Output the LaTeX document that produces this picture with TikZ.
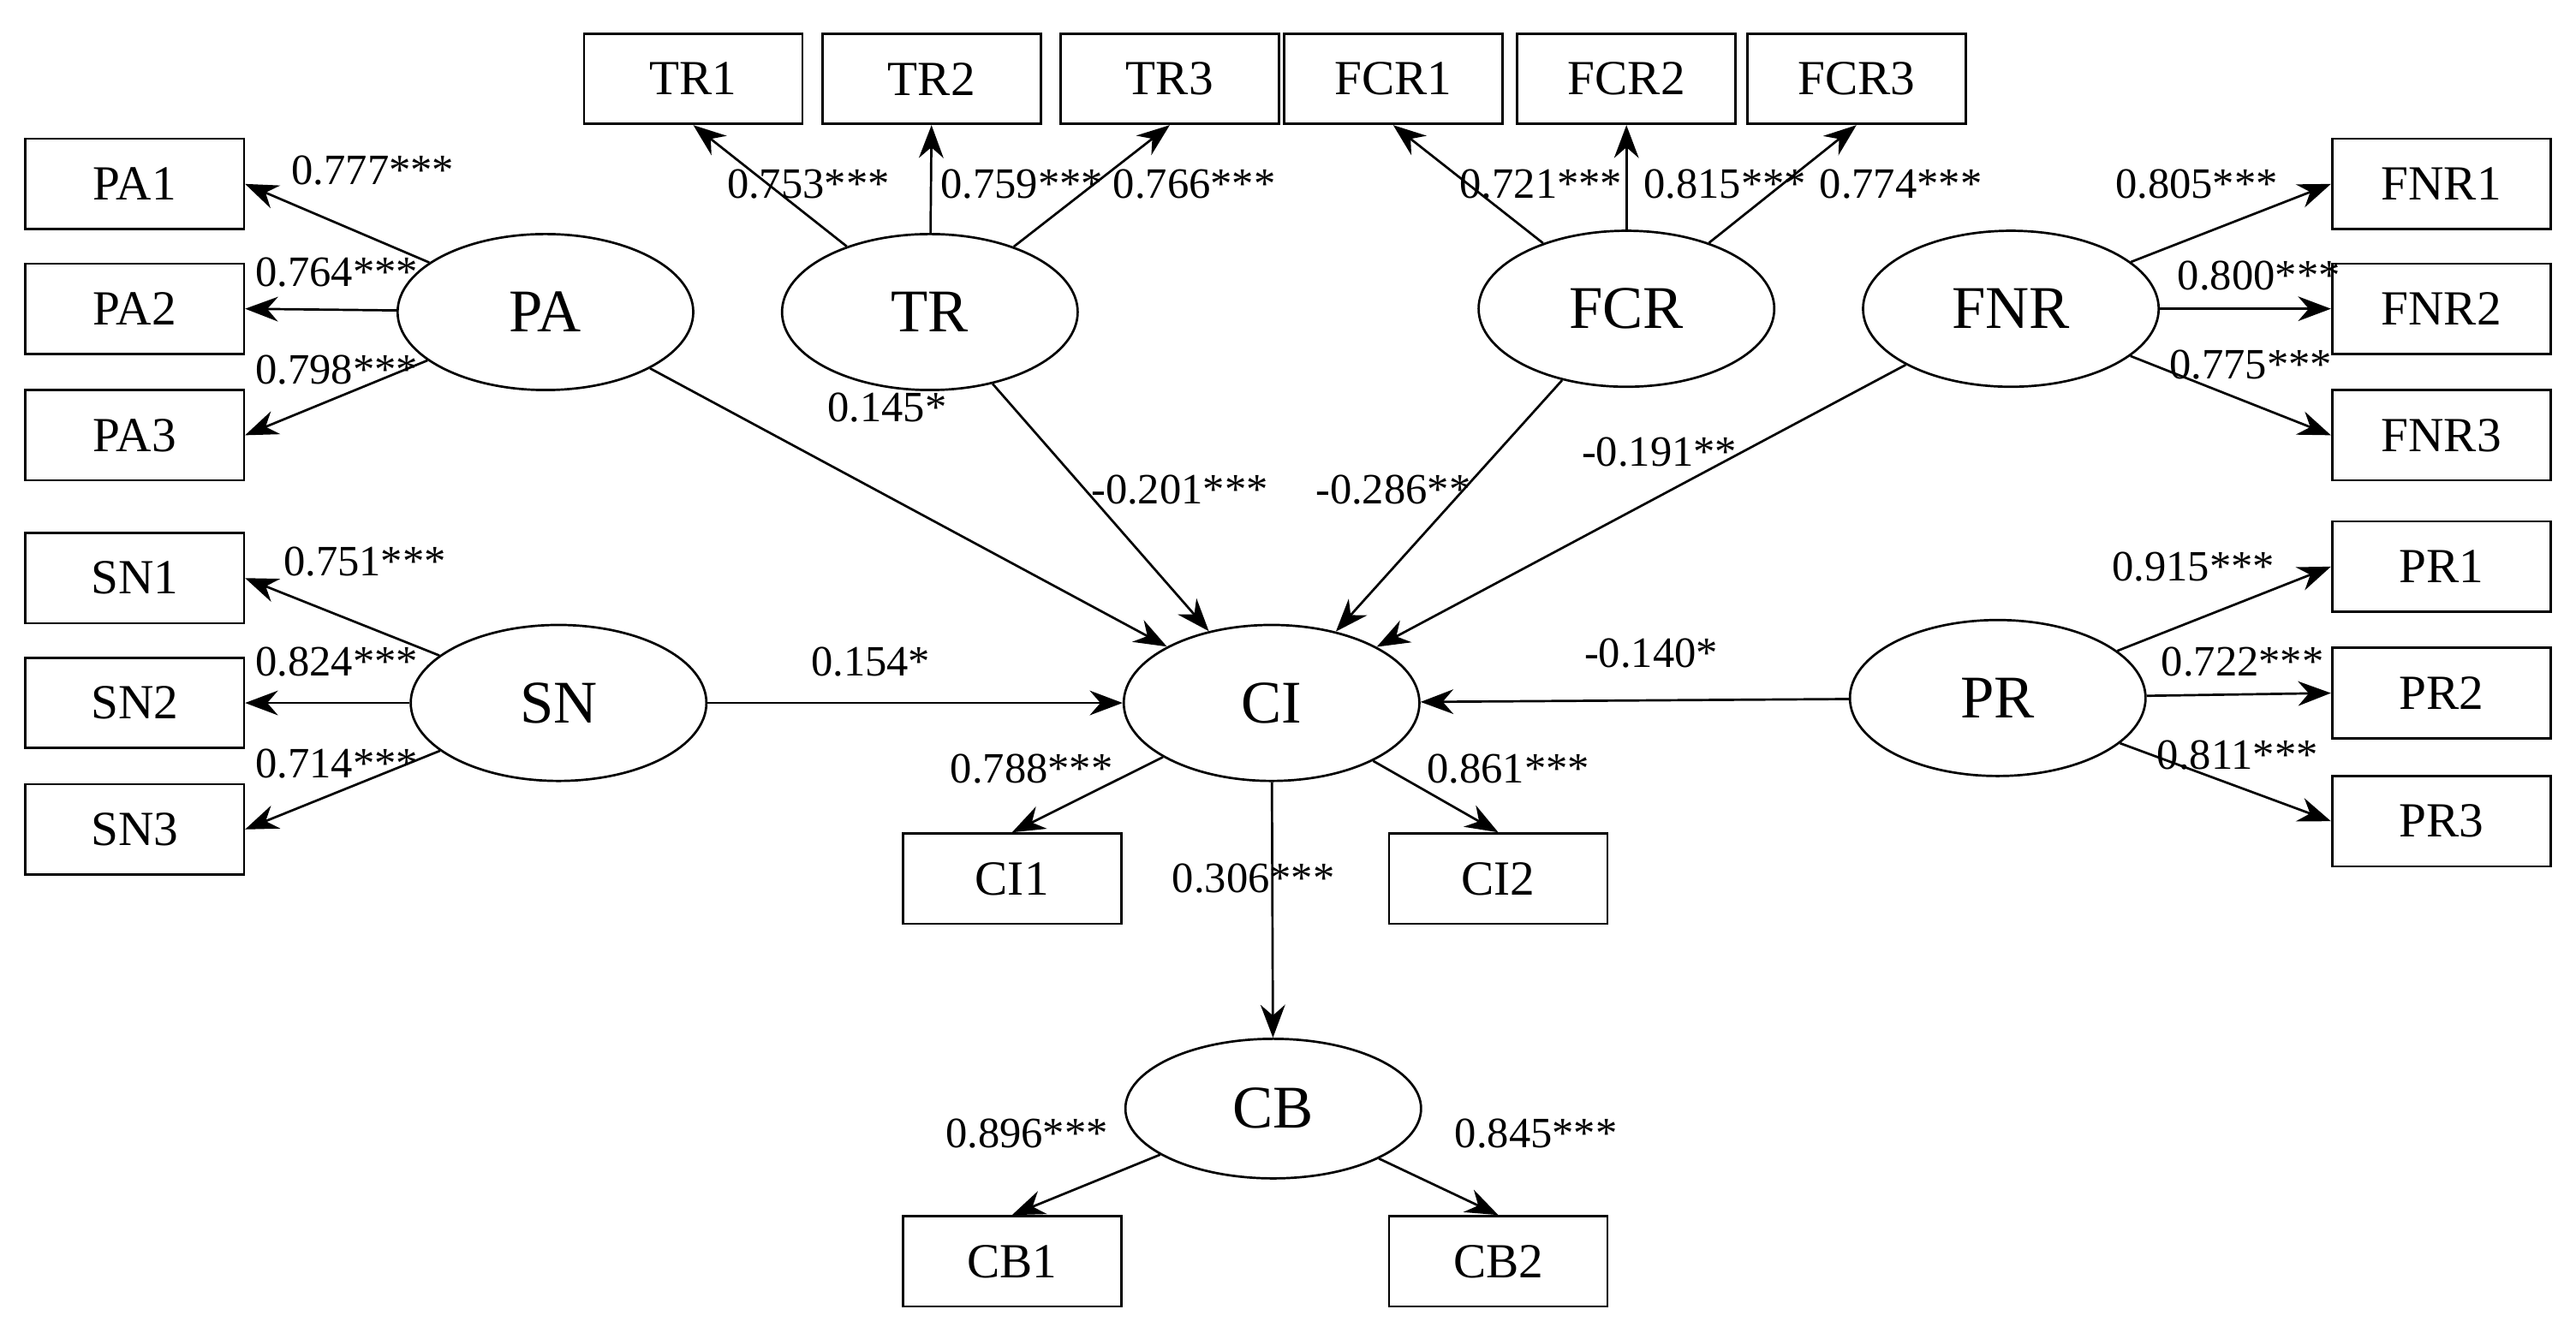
\documentclass[tikz,border=0pt]{standalone}
\usepackage{fontspec}
\setmainfont{Liberation Serif}
\usetikzlibrary{shapes.geometric,arrows.meta}
\begin{document}
\begin{tikzpicture}[x=0.02cm,y=-0.02cm,
  ind/.style={shape=rectangle,draw,thick,minimum width=2.66cm,minimum height=1.1cm,font=\fontsize{17}{17}\selectfont},
  lat/.style={shape=ellipse,draw,thick,minimum width=3.6cm,minimum height=1.9cm,font=\fontsize{21}{21}\selectfont},
  lbl/.style={font=\fontsize{15}{15}\selectfont},
  arr/.style={-{Stealth[length=4mm,width=3mm]},thick}]
\useasboundingbox (0,0) rectangle (1568,804);
\node[lat] (PA) at (332,190) {PA};
\node[lat] (TR) at (566,190) {TR};
\node[lat] (FCR) at (990,188) {FCR};
\node[lat] (FNR) at (1224,188) {FNR};
\node[lat] (SN) at (340,428) {SN};
\node[lat] (CI) at (774,428) {CI};
\node[lat] (PR) at (1216,425) {PR};
\node[lat,minimum height=1.7cm] (CB) at (775,675) {CB};
\node[ind] (PA1) at (82,112) {PA1};
\node[ind] (PA2) at (82,188) {PA2};
\node[ind] (PA3) at (82,265) {PA3};
\node[ind] (SN1) at (82,352) {SN1};
\node[ind] (SN2) at (82,428) {SN2};
\node[ind] (SN3) at (82,505) {SN3};
\node[ind] (TR1) at (422,48) {TR1};
\node[ind] (TR2) at (567,48) {TR2};
\node[ind] (TR3) at (712,48) {TR3};
\node[ind] (FCR1) at (848,48) {FCR1};
\node[ind] (FCR2) at (990,48) {FCR2};
\node[ind] (FCR3) at (1130,48) {FCR3};
\node[ind] (FNR1) at (1486,112) {FNR1};
\node[ind] (FNR2) at (1486,188) {FNR2};
\node[ind] (FNR3) at (1486,265) {FNR3};
\node[ind] (PR1) at (1486,345) {PR1};
\node[ind] (PR2) at (1486,422) {PR2};
\node[ind] (PR3) at (1486,500) {PR3};
\node[ind] (CI1) at (616,535) {CI1};
\node[ind] (CI2) at (912,535) {CI2};
\node[ind] (CB1) at (616,768) {CB1};
\node[ind] (CB2) at (912,768) {CB2};
\draw[arr] (PA) -- (PA1.east);
\draw[arr] (PA) -- (PA2.east);
\draw[arr] (PA) -- (PA3.east);
\draw[arr] (SN) -- (SN1.east);
\draw[arr] (SN) -- (SN2.east);
\draw[arr] (SN) -- (SN3.east);
\draw[arr] (TR) -- (TR1.south);
\draw[arr] (TR) -- (TR2.south);
\draw[arr] (TR) -- (TR3.south);
\draw[arr] (FCR) -- (FCR1.south);
\draw[arr] (FCR) -- (FCR2.south);
\draw[arr] (FCR) -- (FCR3.south);
\draw[arr] (FNR) -- (FNR1.west);
\draw[arr] (FNR) -- (FNR2.west);
\draw[arr] (FNR) -- (FNR3.west);
\draw[arr] (PR) -- (PR1.west);
\draw[arr] (PR) -- (PR2.west);
\draw[arr] (PR) -- (PR3.west);
\draw[arr] (CI) -- (CI1.north);
\draw[arr] (CI) -- (CI2.north);
\draw[arr] (CB) -- (CB1.north);
\draw[arr] (CB) -- (CB2.north);
\draw[arr] (PA) -- (CI);
\draw[arr] (TR) -- (CI);
\draw[arr] (FCR) -- (CI);
\draw[arr] (FNR) -- (CI);
\draw[arr] (SN) -- (CI);
\draw[arr] (PR) -- (CI);
\draw[arr] (CI) -- (CB);
% loadings
\node[lbl] at (227,104) {0.777***};
\node[lbl] at (205,166) {0.764***};
\node[lbl] at (205,225) {0.798***};
\node[lbl] at (222,342) {0.751***};
\node[lbl] at (205,403) {0.824***};
\node[lbl] at (205,465) {0.714***};
\node[lbl] at (492,112) {0.753***};
\node[lbl] at (622,112) {0.759***};
\node[lbl] at (727,112) {0.766***};
\node[lbl] at (938,112) {0.721***};
\node[lbl] at (1050,112) {0.815***};
\node[lbl] at (1157,112) {0.774***};
\node[lbl] at (1337,112) {0.805***};
\node[lbl] at (1375,168) {0.800***};
\node[lbl] at (1370,222) {0.775***};
\node[lbl] at (1335,345) {0.915***};
\node[lbl] at (1365,403) {0.722***};
\node[lbl] at (1362,460) {0.811***};
\node[lbl] at (628,468) {0.788***};
\node[lbl] at (918,468) {0.861***};
\node[lbl] at (625,690) {0.896***};
\node[lbl] at (935,690) {0.845***};
% paths
\node[lbl] at (540,248) {0.145*};
\node[lbl] at (718,298) {-0.201***};
\node[lbl] at (848,298) {-0.286**};
\node[lbl] at (1010,275) {-0.191**};
\node[lbl] at (530,403) {0.154*};
\node[lbl] at (1005,398) {-0.140*};
\node[lbl] at (763,535) {0.306***};
\end{tikzpicture}
\end{document}
